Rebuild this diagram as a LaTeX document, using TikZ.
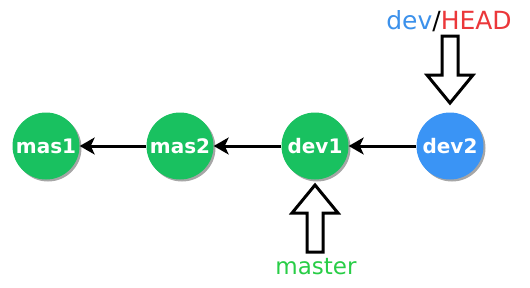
\documentclass[tikz,border=0pt]{standalone}
\usepackage{fontspec}
\setmainfont{DejaVu Sans}
\usetikzlibrary{shadows,arrows.meta,calc}
\definecolor{cgreen}{RGB}{25,193,96}
\definecolor{cblue}{RGB}{58,148,245}
\definecolor{tblue}{RGB}{60,145,235}
\definecolor{tred}{RGB}{235,55,58}
\definecolor{tgreen}{RGB}{40,205,70}
\tikzset{
  commit/.style={circle, minimum size=67pt, inner sep=0pt, text=white,
    font=\fontsize{20}{22}\selectfont\bfseries,
    drop shadow={shadow xshift=2pt, shadow yshift=-2pt, opacity=0.35, fill=black}},
  link/.style={line width=3pt, -{Stealth[length=15pt,width=17pt,inset=4pt]}},
  hollow/.style={line width=3pt, draw=black, fill=white, line join=miter},
  lbl/.style={inner sep=0pt}
}
\begin{document}
\begin{tikzpicture}[x=1pt,y=-1pt]
\useasboundingbox (0,0) rectangle (530,287);
\node[commit, fill=cgreen] (mas1) at (46,146) {mas1};
\node[commit, fill=cgreen] (mas2) at (180,146) {mas2};
\node[commit, fill=cgreen] (dev1) at (315,146) {dev1};
\node[commit, fill=cblue] (dev2) at (450,146) {dev2};
\draw[link] (mas2) -- (mas1);
\draw[link] (dev1) -- (mas2);
\draw[link] (dev2) -- (dev1);
% head pointer
\node[lbl, font=\fontsize{25}{28}\selectfont] (head) at (449,21) {\textcolor{tblue}{dev}/\textcolor{tred}{HEAD}};
\coordinate (ht) at (450,103);
\draw[hollow] ($(ht)+(-8,-67)$) -- ($(ht)+(8,-67)$) -- ($(ht)+(8,-28)$) -- ($(ht)+(23,-28)$)
  -- (ht) -- ($(ht)+(-23,-28)$) -- ($(ht)+(-8,-28)$) -- cycle;
% master pointer
\node[lbl, text=tgreen, font=\fontsize{23}{26}\selectfont] (master) at (316,267) {master};
\coordinate (mt) at (315,185);
\draw[hollow] ($(mt)+(-8,67)$) -- ($(mt)+(8,67)$) -- ($(mt)+(8,28)$) -- ($(mt)+(23,28)$)
  -- (mt) -- ($(mt)+(-23,28)$) -- ($(mt)+(-8,28)$) -- cycle;
\end{tikzpicture}
\end{document}
